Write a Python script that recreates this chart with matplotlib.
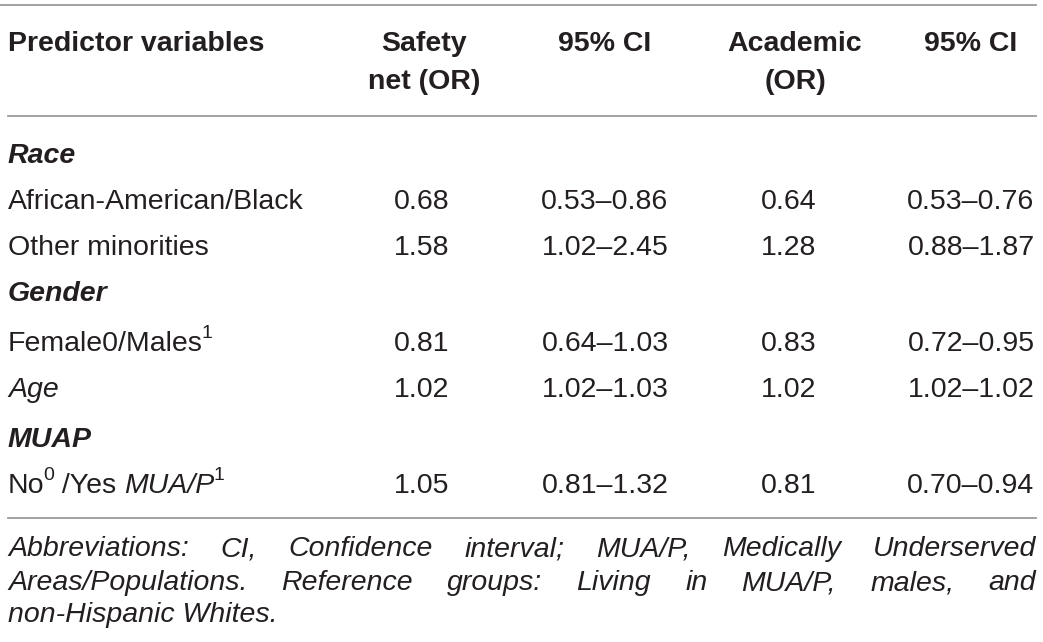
import matplotlib
matplotlib.use('Agg')
import matplotlib.pyplot as plt

plt.rcParams['font.family'] = ['Liberation Sans', 'DejaVu Sans']

W, H = 1043, 642
INK = '#231f20'
RULE = '#9a9a9a'
FS = 20.5

headers = [['Predictor variables'], ['Safety', 'net (OR)'], ['95% CI'], ['Academic', '(OR)'], ['95% CI']]
head_x = [8, 424, 605, 795, 971]
val_x = [422, 605, 789, 971]

# rows: label runs, values (None for section headings)
# run = (text, style, sup)
rows = [
    ([('Race', 'bi', False)], None),
    ([('African-American/Black', 'n', False)], ['0.68', '0.53–0.86', '0.64', '0.53–0.76']),
    ([('Other minorities', 'n', False)], ['1.58', '1.02–2.45', '1.28', '0.88–1.87']),
    ([('Gender', 'bi', False)], None),
    ([('Female0/Males', 'n', False), ('1', 'n', True)], ['0.81', '0.64–1.03', '0.83', '0.72–0.95']),
    ([('Age', 'i', False)], ['1.02', '1.02–1.03', '1.02', '1.02–1.02']),
    ([('MUAP', 'bi', False)], None),
    ([('No', 'n', False), ('0', 'n', True), (' /Yes ', 'n', False), ('MUA/P', 'i', False), ('1', 'n', True)],
     ['1.05', '0.81–1.32', '0.81', '0.70–0.94']),
]
row_y = [156, 202, 248, 294, 344, 390, 440, 486]

footnote = [
    'Abbreviations: CI, Confidence interval; MUA/P, Medically Underserved',
    'Areas/Populations. Reference groups: Living in MUA/P, males, and',
    'non-Hispanic Whites.',
]
foot_y = [549, 583, 615]

fig = plt.figure(figsize=(W / 100, H / 100), dpi=100)
fig.patch.set_facecolor('white')
renderer = fig.canvas.get_renderer()


def fy(y):
    return 1 - y / H


def fx(x):
    return x / W


def style_kw(s):
    return dict(fontweight='bold' if 'b' in s else 'normal',
                fontstyle='italic' if 'i' in s else 'normal')


def put(x, y, s, style='n', size=FS, ha='left', va='center'):
    t = fig.text(fx(x), fy(y), s, fontsize=size, color=INK, ha=ha, va=va, **style_kw(style))
    return t


def width(t):
    return t.get_window_extent(renderer).width


def runs(x, y, parts):
    for txt, st, sup in parts:
        if sup:
            t = put(x - 1, y - 10, txt, st, size=14)
            x += width(t) - 1
        else:
            t = put(x, y, txt, st)
            x += width(t)


def rule(y, x0=0, x1=1036):
    fig.add_artist(plt.Line2D([fx(x0), fx(x1)], [fy(y), fy(y)], color=RULE, lw=1.3))


rule(5)
rule(116, 8)
rule(518, 8)

for i, h in enumerate(headers):
    ha = 'left' if i == 0 else 'center'
    for j, line in enumerate(h):
        put(head_x[i], 44 + 38 * j, line, 'b', ha=ha)

for (label, vals), y in zip(rows, row_y):
    runs(8, y, label)
    if vals:
        for v, x in zip(vals, val_x):
            put(x, y, v, ha='center')

# justified footnote
left, right = 8, 1036
for k, (line, y) in enumerate(zip(footnote, foot_y)):
    words = line.split(' ')
    if k == len(footnote) - 1:
        put(left, y, line, 'i')
        continue
    ts = [put(0, y, w_, 'i') for w_ in words]
    ws = [width(t) for t in ts]
    gap = (right - left - sum(ws)) / (len(words) - 1)
    x = left
    for t, w_ in zip(ts, ws):
        t.set_position((fx(x), fy(y)))
        x += w_ + gap

fig.savefig('out.png', dpi=100, facecolor='white')
